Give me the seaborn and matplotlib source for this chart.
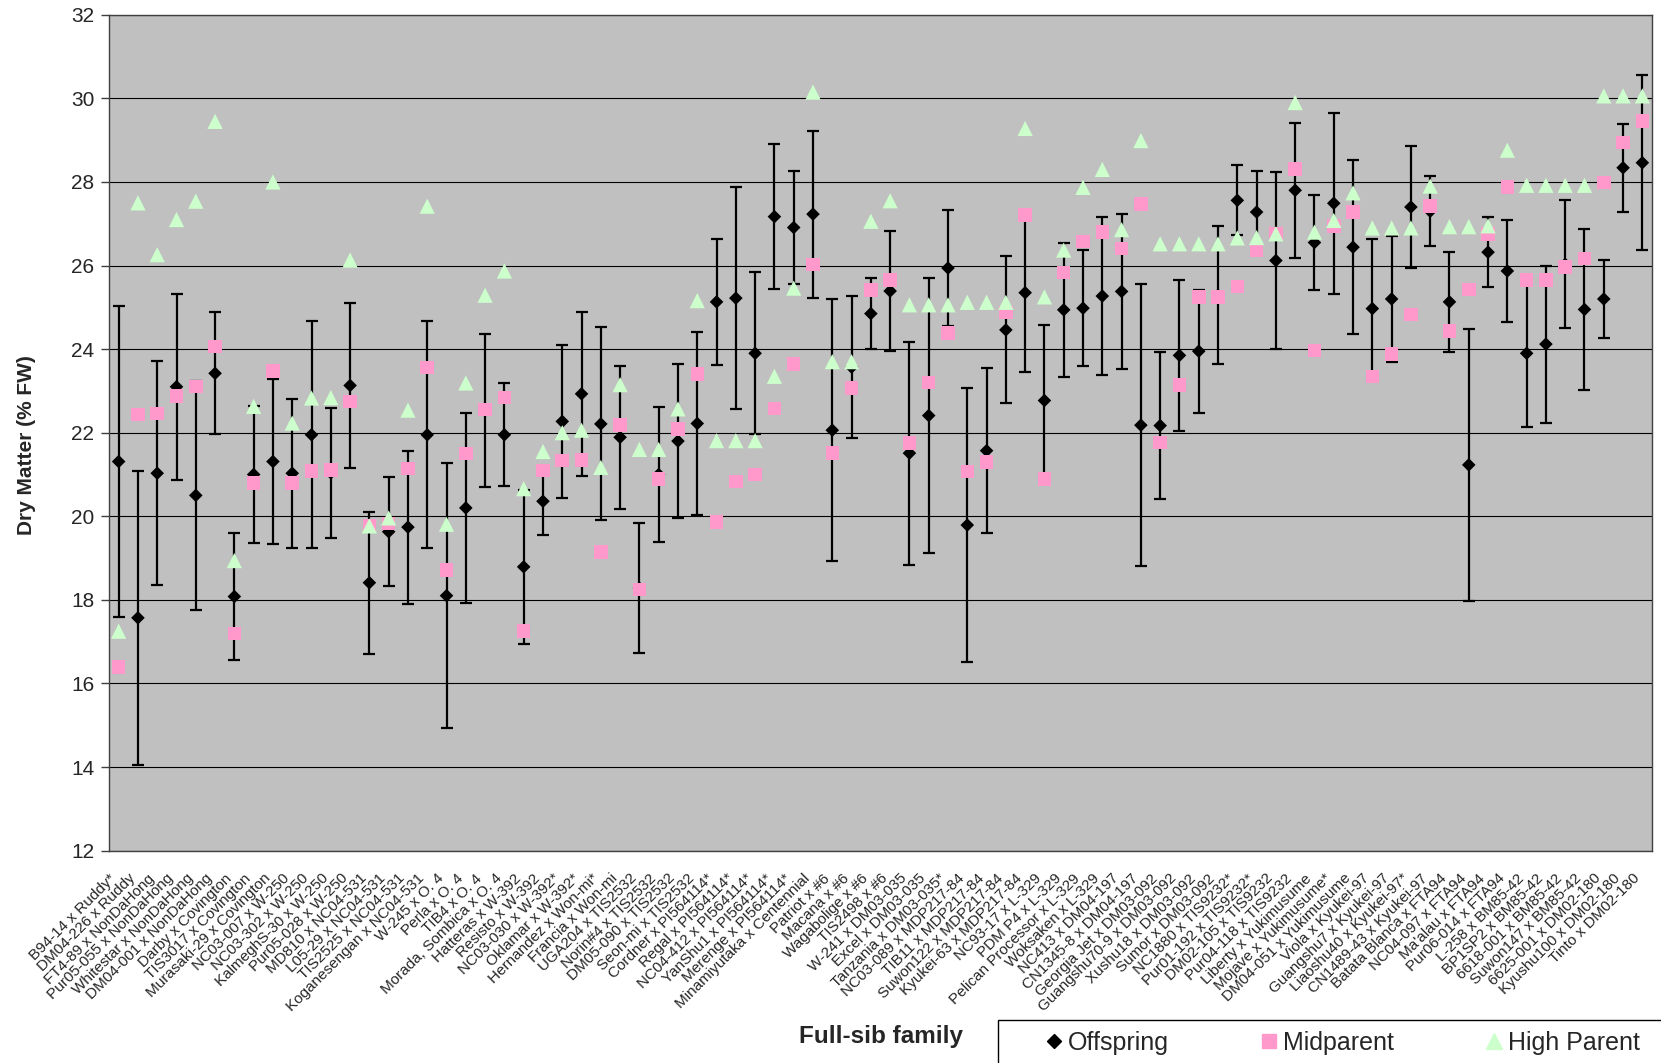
import numpy as np
import pandas as pd
import matplotlib
matplotlib.use("Agg")
import matplotlib.pyplot as plt
import seaborn as sns
from matplotlib.patches import Rectangle
from matplotlib.lines import Line2D

# Full-sib families (cross labels)
families = [
    "B94-14 x Ruddy*", "DM04-226 x Ruddy", "FT4-89 x NonDaHong", "Pur05-055 x NonDaHong",
    "Whitestar x NonDaHong", "DM04-001 x NonDaHong", "Darby x Covington", "TIS3017 x Covington",
    "Murasaki-29 x Covington", "NC03-007 x W-250", "NC03-302 x W-250", "KalmeghS-30 x W-250",
    "Pur05-028 x W-250", "MD810 x NC04-531", "L05-29 x NC04-531", "TIS2525 x NC04-531",
    "Koganesengan x NC04-531", "W-245 x O. 4", "Perla x O. 4", "TIB4 x O. 4",
    "Morada, Sombica x O. 4", "Hatteras x W-392", "Resisto x W-392", "NC03-030 x W-392*",
    "Oklamar x W-392*", "Hernandez x Won-mi*", "Francia x Won-mi", "UGA204 x TIS2532",
    "Norin#4 x TIS2532", "DM05-090 x TIS2532", "Seon-mi x TIS2532", "Cordner x PI564114*",
    "Regal x PI564114*", "NC04-412 x PI564114*", "YanShu1 x PI564114*", "Merenge x PI564114*",
    "Minamiyutaka x Centennial", "Patriot x #6", "Macana x #6", "Wagabolige x #6",
    "TIS2498 x #6", "W-241 x DM03-035", "Excel x DM03-035", "Tanzania x DM03-035*",
    "NC03-089 x MDP217-84", "TIB11 x MDP217-84", "Suwon122 x MDP217-84", "Kyukei-63 x MDP217-84",
    "NC93-17 x L-329", "PDM P4 x L-329", "Pelican Processor x L-329", "Woksaken x L-329",
    "NC413 x DM04-197", "CN1345-8 x DM04-197", "Georgia Jet x DM03-092", "Guangshu70-9 x DM03-092",
    "Xushu18 x DM03-092", "Sumor x DM03-092", "NC1880 x TIS9232*", "Pur01-192 x TIS9232*",
    "DM02-105 x TIS9232", "Pur04-118 x TIS9232", "Liberty x Yukimusume", "Mojave x Yukimusume*",
    "DM04-051 x Yukimusume", "Viola x Kyukei-97", "Guangshu7 x Kyukei-97", "Liaoshu40 x Kyukei-97*",
    "CN1489-43 x Kyukei-97", "Batata Blanca x FTA94", "NC04-097 x FTA94", "Ma'alau x FTA94",
    "Pur06-014 x FTA94", "L-258 x BM85-42", "BP1SP2 x BM85-42", "6618-001 x BM85-42",
    "Suwon147 x BM85-42", "6625-001 x DM02-180", "Kyushu100 x DM02-180", "Tinto x DM02-180",
]

# Offspring mean dry matter (% FW) and its standard deviation
offspring = [
    21.31, 17.57, 21.03, 23.10, 20.50, 23.42, 18.08, 21.00, 21.31, 21.03,
    21.95, 21.04, 23.13, 18.41, 19.63, 19.74, 21.95, 18.10, 20.20, 22.53,
    21.95, 18.79, 20.36, 22.27, 22.93, 22.21, 21.89, 18.28, 21.00, 21.80,
    22.22, 25.13, 25.22, 23.90, 27.17, 26.91, 27.23, 22.06, 23.57, 24.85,
    25.39, 21.51, 22.41, 25.94, 19.79, 21.57, 24.46, 25.35, 22.77, 24.94,
    24.98, 25.27, 25.38, 22.18, 22.17, 23.85, 23.95, 25.29, 27.56, 27.28,
    26.12, 27.80, 26.55, 27.49, 26.44, 24.97, 25.20, 27.40, 27.30, 25.13,
    21.23, 26.32, 25.87, 23.90, 24.12, 26.03, 24.95, 25.20, 28.34, 28.46,
]
offspring_sd = [
    3.72, 3.51, 2.68, 2.23, 2.74, 1.46, 1.51, 1.64, 1.97, 1.78,
    2.72, 1.56, 1.97, 1.70, 1.31, 1.83, 2.72, 3.17, 2.28, 1.82,
    1.23, 1.84, 0.80, 1.84, 1.96, 2.31, 1.71, 1.56, 1.62, 1.84,
    2.19, 1.50, 2.65, 1.94, 1.74, 1.35, 2.00, 3.13, 1.69, 0.85,
    1.44, 2.67, 3.29, 1.38, 3.27, 1.98, 1.76, 1.90, 1.81, 1.60,
    1.39, 1.90, 1.86, 3.38, 1.76, 1.80, 1.47, 1.65, 0.84, 0.98,
    2.12, 1.62, 1.13, 2.16, 2.09, 1.66, 1.51, 1.46, 0.84, 1.19,
    3.25, 0.84, 1.22, 1.77, 1.88, 1.53, 1.92, 0.94, 1.05, 2.10,
]
midparent = [
    16.39, 22.43, 22.46, 22.88, 23.11, 24.06, 17.20, 20.79, 23.48, 20.80,
    21.08, 21.11, 22.75, 19.77, 19.83, 21.14, 23.56, 18.72, 21.50, 22.55,
    22.84, 17.25, 21.10, 21.33, 21.35, 19.15, 22.18, 18.25, 20.89, 22.09,
    23.41, 19.86, 20.83, 21.00, 22.58, 23.65, 26.03, 21.51, 23.07, 25.41,
    25.65, 21.75, 23.20, 24.39, 21.07, 21.30, 24.88, 27.21, 20.89, 25.83,
    26.57, 26.80, 26.41, 27.47, 21.77, 23.14, 25.25, 25.25, 25.50, 26.37,
    26.76, 28.31, 23.97, 26.95, 27.28, 23.34, 23.88, 24.83, 27.42, 24.43,
    25.43, 26.75, 27.88, 25.65, 25.66, 25.97, 26.17, 27.99, 28.94, 29.46,
]
high_parent = [
    17.25, 27.50, 26.26, 27.10, 27.54, 29.45, 18.94, 22.63, 28.00, 22.23,
    22.83, 22.84, 26.13, 19.77, 19.96, 22.54, 27.42, 19.81, 23.19, 25.29,
    25.87, 20.66, 21.55, 22.00, 22.06, 21.17, 23.15, 21.60, 21.60, 22.57,
    25.16, 21.81, 21.81, 21.81, 23.35, 25.46, 30.15, 23.70, 23.70, 27.06,
    27.55, 25.06, 25.06, 25.06, 25.12, 25.12, 25.12, 29.28, 25.25, 26.37,
    27.87, 28.30, 26.86, 28.99, 26.52, 26.52, 26.52, 26.52, 26.66, 26.67,
    26.76, 29.90, 26.80, 27.08, 27.74, 26.90, 26.90, 26.90, 27.90, 26.93,
    26.93, 26.95, 28.76, 27.92, 27.92, 27.92, 27.92, 30.06, 30.06, 30.06,
]
series_names = ["Offspring", "Midparent", "High Parent"]
y_ticks = list(range(12, 33, 2))

n = len(families)
pos = np.arange(n)
long_df = pd.DataFrame({
    "pos": np.tile(pos, 3),
    "value": offspring + midparent + high_parent,
    "series": np.repeat(series_names, n),
})

colors = {"Offspring": "#000000", "Midparent": "#FF99CC", "High Parent": "#CCFFCC"}
markers = {"Offspring": "D", "Midparent": "s", "High Parent": "^"}
sizes = {"Offspring": 48, "Midparent": 95, "High Parent": 120}

sns.set_theme(style="white")
plt.rcParams["font.family"] = ["Liberation Sans", "DejaVu Sans"]

W, H = 1661, 1063
fig = plt.figure(figsize=(W / 100, H / 100), dpi=100)
ax = fig.add_axes([109 / W, 1 - 850.6 / H, (1652 - 109) / W, (850.6 - 14.8) / H])
ax.set_facecolor("#C0C0C0")

# offspring standard deviation bars
ax.errorbar(pos, offspring, yerr=offspring_sd, fmt="none", ecolor="black",
            elinewidth=1.6, capsize=4.6, capthick=1.6, zorder=2)

sns.scatterplot(data=long_df, x="pos", y="value", hue="series", style="series",
                size="series", palette=colors, markers=markers, sizes=sizes,
                linewidth=0, edgecolor="none", legend=False, ax=ax, zorder=3)

ax.set_xlim(-0.5, n - 0.5)
ax.set_ylim(12, 32)
ax.set_yticks(y_ticks)
ax.set_yticklabels([str(t) for t in y_ticks], fontsize=15)
ax.yaxis.grid(True, color="black", linewidth=0.8)
ax.xaxis.grid(False)
ax.set_axisbelow(True)

ax.set_xticks(pos)
ax.set_xticklabels(families, rotation=45, ha="right", va="bottom",
                   rotation_mode="anchor", fontsize=11)
ax.set_xticks(np.arange(-0.5, n, 1), minor=True)
ax.tick_params(axis="x", which="major", length=0, pad=22)
ax.tick_params(axis="x", which="minor", length=5, width=1, color="#404040", direction="out")
ax.tick_params(axis="y", which="major", length=5.5, width=1, color="#404040",
               direction="out", pad=5, left=True)
for s in ax.spines.values():
    s.set_color("#404040")
    s.set_linewidth(1)
ax.set_xlabel("")
ax.set_ylabel("")

fig.text(26.5 / W, 1 - 445 / H, "Dry Matter (% FW)", rotation=90, fontsize=15,
         fontweight="bold", ha="center", va="center")
fig.text(881 / W, 1 - 1036 / H, "Full-sib family", fontsize=17.5,
         fontweight="bold", ha="center", va="center")

# legend box running off the lower-right corner
fig.patches.append(Rectangle((998 / W, 1 - 1075 / H), (1680 - 998) / W, 55 / H,
                             transform=fig.transFigure, facecolor="white",
                             edgecolor="black", linewidth=1, zorder=1))
handles = [Line2D([], [], linestyle="none", marker=markers[k], color=colors[k],
                  markersize={"Offspring": 6.9, "Midparent": 9.7, "High Parent": 11.0}[k])
           for k in series_names]
fig.legend(handles, series_names, loc="center left",
           bbox_to_anchor=(1044 / W, 1 - 1043 / H), ncol=3, frameon=False,
           fontsize=18, handlelength=0.8, handletextpad=0.16, columnspacing=3.6,
           borderpad=0, borderaxespad=0)

fig.savefig("out.png", dpi=100)
